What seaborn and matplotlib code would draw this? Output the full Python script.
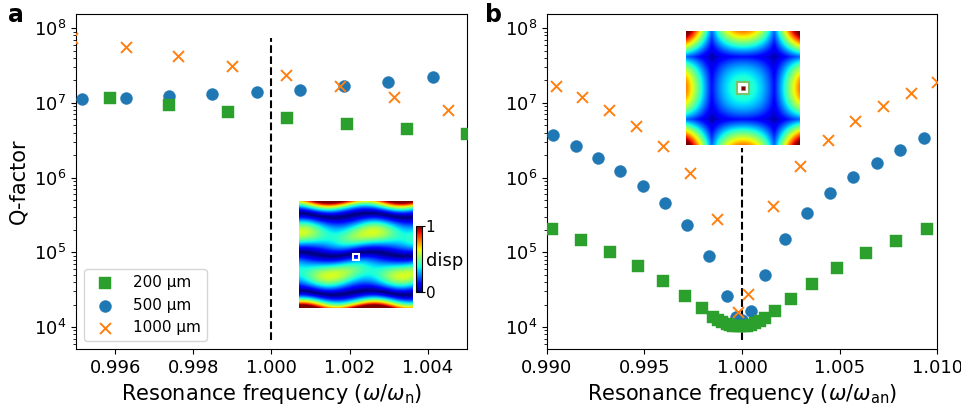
import numpy as np
import seaborn as sns
import matplotlib.pyplot as plt
from matplotlib.patches import Rectangle
from matplotlib.ticker import FormatStrFormatter

# ---- values ----
labels = ['200 µm', '500 µm', '1000 µm']
colors = ['#2ca02c', '#1f77b4', '#ff7f0e']
markers = ['s', 'o', 'x']
sizes = [64, 74, 62]

# panel a
a_freq_200 = [0.99586, 0.99737, 0.99889, 1.00040, 1.00194, 1.00346, 1.00499]
a_q_200 = [1.17e7, 9.3e6, 7.67e6, 6.3e6, 5.24e6, 4.45e6, 3.82e6]
a_freq_500 = [0.99515, 0.99628, 0.99738, 0.99849, 0.99962, 1.00073, 1.00186, 1.00299, 1.00412]
a_q_500 = [1.12e7, 1.17e7, 1.23e7, 1.31e7, 1.38e7, 1.49e7, 1.66e7, 1.89e7, 2.23e7]
a_freq_1000 = [0.99490, 0.99628, 0.99762, 0.99900, 1.00037, 1.00176, 1.00314, 1.00452]
a_q_1000 = [7.45e7, 5.61e7, 4.21e7, 3.16e7, 2.35e7, 1.69e7, 1.19e7, 7.97e6]

# panel b
b_freq_200 = [0.99026, 0.99176, 0.99324, 0.99466, 0.99597, 0.99710, 0.99795, 0.99850,
              0.99877, 0.99900, 0.99921, 0.99938, 0.99956, 0.99974, 0.99992, 1.00010,
              1.00028, 1.00046, 1.00066, 1.00090, 1.00118, 1.00170, 1.00249, 1.00358,
              1.00488, 1.00633, 1.00787, 1.00946]
b_q_200 = [2.05e5, 1.47e5, 1.01e5, 6.62e4, 4.18e4, 2.61e4, 1.77e4, 1.38e4,
           1.25e4, 1.16e4, 1.10e4, 1.06e4, 1.04e4, 1.02e4, 1.02e4, 1.02e4,
           1.04e4, 1.07e4, 1.12e4, 1.19e4, 1.33e4, 1.66e4, 2.38e4, 3.78e4,
           6.12e4, 9.7e4, 1.43e5, 2.05e5]
b_freq_500 = [0.99031, 0.99148, 0.99261, 0.99375, 0.99492, 0.99604, 0.99720, 0.99829,
              0.99922, 0.99967, 0.99998, 1.00045, 1.00119, 1.00222, 1.00334, 1.00451,
              1.00570, 1.00690, 1.00809, 1.00932]
b_q_500 = [3.74e6, 2.64e6, 1.82e6, 1.21e6, 7.82e5, 4.54e5, 2.29e5, 8.93e4,
           2.61e4, 1.35e4, 1.25e4, 1.65e4, 4.94e4, 1.49e5, 3.38e5, 6.24e5,
           1.03e6, 1.58e6, 2.36e6, 3.44e6]
b_freq_1000 = [0.99046, 0.99182, 0.99321, 0.99459, 0.99597, 0.99735, 0.99870, 0.99980,
               1.00032, 1.00160, 1.00298, 1.00439, 1.00578, 1.00723, 1.00864, 1.00997]
b_q_1000 = [1.70e7, 1.19e7, 8.07e6, 4.93e6, 2.67e6, 1.14e6, 2.78e5, 1.58e4,
            2.78e4, 4.14e5, 1.45e6, 3.17e6, 5.68e6, 9.12e6, 1.36e7, 1.92e7]

a_xticks = [0.996, 0.998, 1.000, 1.002, 1.004]
b_xticks = [0.990, 0.995, 1.000, 1.005, 1.010]
a_xlim = (0.995, 1.005)
b_xlim = (0.990, 1.010)
ylims = (5.08e3, 1.55e8)
ref_x = 1.0
ref_span_a = (6.8e3, 7.3e7)
ref_span_b = (6.8e3, 2.5e6)


def field_a(n=220):
    # sketch of the displacement pattern shown in the inset of panel a
    u, v = np.meshgrid(np.linspace(0, 1, n), np.linspace(0, 1, n))
    yp = v - 0.5
    k = np.pi / 0.36
    ph = 2 * np.pi * (u - 0.46) / 0.64
    yw = yp + 0.02 * np.sin(ph)
    env = 0.5 + 0.6 * (2 * yp) ** 6
    f = np.abs(np.sin(k * yw)) ** 1.3 * env * (1 + 0.22 * np.cos(ph + k * yp))
    return np.clip(f, 0, 1)


def field_b(n=220):
    # sketch of the displacement pattern shown in the inset of panel b
    x, y = np.meshgrid(np.linspace(-1, 1, n), np.linspace(-1, 1, n))
    a = np.pi / 1.1
    gx = 0.25 + 0.75 * np.abs(np.cos(a * x))
    gy = 0.25 + 0.75 * np.abs(np.cos(a * y))
    env = 0.42 + 0.38 * (x ** 2 + y ** 2)
    return np.clip(gx * gy * env, 0, 1)


def draw_series(ax, freqs, qs):
    # blue first, green over it, orange crosses on top
    for i in [1, 0, 2]:
        kw = dict(marker=markers[i], color=colors[i], s=sizes[i], label=labels[i],
                  legend=False, ax=ax, zorder=3)
        if markers[i] == 'x':
            kw['linewidth'] = 1.4
        else:
            kw['edgecolor'] = colors[i]
            kw['linewidth'] = 0.3
        sns.scatterplot(x=freqs[i], y=qs[i], **kw)


fig = plt.figure(figsize=(9.62, 4.13), dpi=100)
ax_a = fig.add_axes([0.0790, 0.1550, 0.4064, 0.8111])
ax_b = fig.add_axes([0.5683, 0.1550, 0.4060, 0.8111])

draw_series(ax_a, [a_freq_200, a_freq_500, a_freq_1000], [a_q_200, a_q_500, a_q_1000])
draw_series(ax_b, [b_freq_200, b_freq_500, b_freq_1000], [b_q_200, b_q_500, b_q_1000])

ax_a.plot([ref_x, ref_x], ref_span_a, color='k', ls='--', lw=1.5, zorder=2)
ax_b.plot([ref_x, ref_x], ref_span_b, color='k', ls='--', lw=1.5, zorder=2)

for ax, ticks, lim, sub in [(ax_a, a_xticks, a_xlim, 'n'), (ax_b, b_xticks, b_xlim, 'an')]:
    ax.set_yscale('log')
    ax.set_ylim(*ylims)
    ax.set_xlim(*lim)
    ax.set_xticks(ticks)
    ax.xaxis.set_major_formatter(FormatStrFormatter('%.3f'))
    ax.tick_params(axis='both', which='major', labelsize=13)
    ax.set_xlabel(r'Resonance frequency ($\omega/\omega_\mathrm{%s}$)' % sub, fontsize=15)
    ax.set_ylabel('')

ax_a.set_ylabel('Q-factor', fontsize=15)

h, l = ax_a.get_legend_handles_labels()
order = [l.index(t) for t in labels]
ax_a.legend([h[i] for i in order], labels, loc='lower left', fontsize=11)

# insets
ins_a = fig.add_axes([0.3111, 0.2542, 0.1179, 0.2598])
im_a = ins_a.imshow(field_a(), cmap='jet', vmin=0, vmax=1, extent=(0, 1, 1, 0),
                    aspect='auto', interpolation='bilinear')
ins_a.add_patch(Rectangle((0.5 - 0.03, 0.526 - 0.03), 0.06, 0.06, facecolor='none',
                          edgecolor='white', lw=1.5))
ins_a.axis('off')

cax = fig.add_axes([0.4324, 0.2937, 0.0059, 0.1591])
cb = fig.colorbar(im_a, cax=cax, ticks=[0, 1])
cb.ax.tick_params(labelsize=11, length=2, pad=1)
cax.text(1.75, 0.47, 'disp', transform=cax.transAxes, fontsize=13, va='center', ha='left')

ins_b = fig.add_axes([0.7131, 0.6489, 0.1185, 0.2760])
ins_b.imshow(field_b(), cmap='jet', vmin=0, vmax=1, extent=(-1, 1, -1, 1),
             aspect='auto', interpolation='bilinear')
ins_b.add_patch(Rectangle((-0.11, -0.11), 0.22, 0.22, facecolor='white',
                          edgecolor='#7cc26a', lw=1.5))
ins_b.add_patch(Rectangle((-0.04, -0.04), 0.08, 0.08, facecolor='#7f0000',
                          edgecolor='0.5', lw=0.5))
ins_b.axis('off')

fig.text(8 / 962, 1 - 22 / 413, 'a', fontsize=17, fontweight='bold', va='baseline')
fig.text(485 / 962, 1 - 22 / 413, 'b', fontsize=17, fontweight='bold', va='baseline')

fig.savefig('out.png', dpi=100)
